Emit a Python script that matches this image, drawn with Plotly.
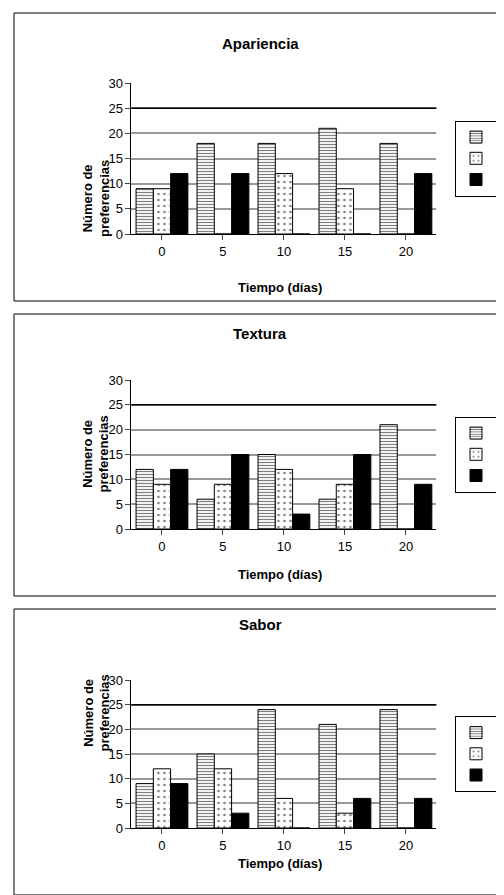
import plotly.graph_objects as go

dias = ['0', '5', '10', '15', '20']
titulos = ['Apariencia', 'Textura', 'Sabor']
R = [[9, 18, 18, 21, 18], [12, 6, 15, 6, 21], [9, 15, 24, 21, 24]]
A = [[9, 0, 12, 9, 0], [9, 9, 12, 9, 0], [12, 12, 6, 3, 0]]
C = [[12, 12, 0, 0, 12], [12, 15, 3, 15, 9], [9, 3, 0, 6, 6]]

H = 895
def py(p):
    return 1 - p / H

# panel boxes (px): border top/bottom, plot top/bottom, title y, xtitle y
panels = [(5, 293, 75, 226, 25, 270), (306, 588, 372, 521, 325, 566), (601, 887, 672, 820, 627, 865)]

fig = go.Figure()
shapes, annots = [], []
font = dict(family='Liberation Sans, Arial', size=13, color='black')
for i, (bt, bb, pt, pb, ty, xt) in enumerate(panels):
    n = '' if i == 0 else str(i + 1)
    leg = 'legend' + n
    for name, vals, pat, sz, sol, col in [('R', R[i], '-', 3, 0.4, 'white'), ('A', A[i], '.', 6, 0.15, 'white'),
                                          ('C', C[i], '', 4, 0.4, 'black')]:
        fig.add_bar(x=dias, y=vals, name=name, xaxis='x' + n, yaxis='y' + n, legend=leg,
                    marker=dict(color=col, line=dict(color='black', width=1),
                                pattern=dict(shape=pat, fgcolor='black', size=sz, solidity=sol)))
    fig.layout['xaxis' + n] = dict(domain=[0.245, 0.85], anchor='y' + n, showline=True, linecolor='black',
                                   ticks='outside', tickfont=font, title=dict(text=''))
    fig.layout['yaxis' + n] = dict(domain=[py(pb), py(pt)], anchor='x' + n, range=[0, 30], dtick=5,
                                   showline=True, linecolor='black', ticks='outside', tickfont=font,
                                   gridcolor='#999999', gridwidth=1.5)
    fig.layout[leg] = dict(x=447 / 504, y=py((pt + pb) / 2), yanchor='middle', xanchor='left',
                           bordercolor='black', borderwidth=1, itemwidth=30,
                           font=dict(family='Liberation Sans, Arial', size=14), tracegroupgap=4)
    shapes.append(dict(type='rect', xref='paper', yref='paper', x0=6 / 504, x1=497 / 504,
                       y0=py(bb), y1=py(bt), line=dict(color='black', width=1)))
    shapes.append(dict(type='line', xref='x' + n + ' domain', yref='y' + n, x0=0, x1=1, y0=25, y1=25,
                       line=dict(color='black', width=1.5)))
    annots.append(dict(text='<b>' + titulos[i] + '</b>', x=0.5, y=py(ty), xref='paper', yref='paper',
                       showarrow=False, font=dict(family='Liberation Sans, Arial', size=15)))
    annots.append(dict(text='<b>Tiempo (días)</b>', x=0.54, y=py(xt), xref='paper', yref='paper',
                       showarrow=False, font=font))
    annots.append(dict(text='<b>Número de<br>preferencias</b>', x=70 / 504, y=py((pt + pb) / 2), xref='paper',
                       yref='paper', showarrow=False, textangle=-90, font=font))

fig.update_layout(width=504, height=895, margin=dict(l=0, r=0, t=0, b=0, autoexpand=False),
                  plot_bgcolor='white', paper_bgcolor='white', barmode='group', bargap=0.15,
                  bargroupgap=0, shapes=shapes, annotations=annots, font=font)
fig.write_html('out.html')
